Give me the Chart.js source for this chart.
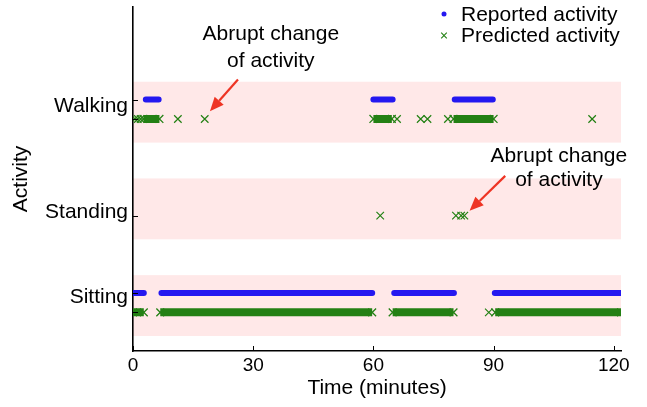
<!DOCTYPE html>
<html>
<head>
<meta charset="utf-8">
<script src="https://cdn.jsdelivr.net/npm/chart.js@4/dist/chart.umd.min.js"></script>
<style>
  html, body { margin: 0; padding: 0; background: #fff; }
  #wrap { width: 647px; height: 407px; position: relative; }
</style>
</head>
<body>
<div id="wrap"><canvas id="activityChart"></canvas></div>
<script>
// rows on the y axis (Sitting = 0, Standing = 1, Walking = 2)
const activityLabels = ['Sitting', 'Standing', 'Walking'];
const labelTicks = [0.055, 0.94, 2.03];
const timeTicks = [0, 30, 60, 90, 120];

// continuous runs of samples: [start minute, end minute, row]
const reportedRuns = [
    [3.2, 6.4, 2], [60.0, 64.8, 2], [80.3, 89.8, 2],
    [0, 2.7, 0], [7.1, 59.7, 0], [65.2, 80.1, 0], [90.3, 121.8, 0]
];
const predictedRuns = [
    [2.6, 6.6, 2], [60.0, 64.6, 2], [80.0, 90.0, 2],
    [0, 2.7, 0], [6.8, 59.7, 0], [64.8, 80.0, 0], [90.4, 121.8, 0]
];
// single predicted samples: [minute, row]
const predictedPoints = [
    [0.5, 2], [1.2, 2], [1.9, 2], [11.2, 2], [17.9, 2], [65.9, 2],
    [71.8, 2], [73.5, 2], [78.6, 2], [114.6, 2],
    [61.7, 1], [80.6, 1], [81.9, 1], [82.7, 1],
    [88.8, 0]
];

// annotations: text centre and arrow (tail -> head) in data units
const noteLines = ['Abrupt change', 'of activity'];
const notes = [
    { x: 34.4, y1: 2.772, y2: 2.494, from: [26.2, 2.309], to: [19.2, 1.980] },
    { x: 106.3, y1: 1.517, y2: 1.270, from: [92.9, 1.311], to: [84.0, 0.951] }
];

const REPORTED_SHIFT = 0.1;
const PREDICTED_SHIFT = -0.1;
const BAND_BELOW = 0.345;
const BAND_ABOVE = 0.285;

const BLUE = 'rgb(36,24,240)';
const GREEN = 'rgb(36,128,20)';
const RED = 'rgb(238,52,36)';
const FONT = '"Liberation Sans", Arial, Helvetica, sans-serif';

function runsToLine(runs, shift) {
    const out = [];
    runs.forEach(r => {
        out.push({ x: r[0], y: r[2] + shift });
        out.push({ x: r[1], y: r[2] + shift });
        out.push({ x: r[1], y: null });
    });
    return out;
}

const bandPlugin = {
    id: 'bands',
    beforeDraw(chart) {
        const { ctx, chartArea, scales } = chart;
        ctx.save();
        ctx.fillStyle = 'rgba(255,0,0,0.09)';
        activityLabels.forEach((_, row) => {
            const top = scales.y.getPixelForValue(row + BAND_ABOVE);
            const bottom = scales.y.getPixelForValue(row - BAND_BELOW);
            ctx.fillRect(chartArea.left, top, chartArea.right - chartArea.left, bottom - top);
        });
        ctx.restore();
    }
};

const extrasPlugin = {
    id: 'extras',
    afterDraw(chart) {
        const { ctx, chartArea, scales } = chart;
        const xs = scales.x, ys = scales.y;
        ctx.save();

        // inward tick marks
        ctx.strokeStyle = '#000';
        ctx.lineWidth = 1;
        timeTicks.forEach(t => {
            const px = Math.round(xs.getPixelForValue(t)) + 0.5;
            ctx.beginPath();
            ctx.moveTo(px, chartArea.bottom);
            ctx.lineTo(px, chartArea.bottom - 5);
            ctx.stroke();
        });
        const rowTicks = [];
        activityLabels.forEach((_, row) => {
            if (reportedRuns.some(r => r[2] === row)) rowTicks.push(row + REPORTED_SHIFT);
            if (predictedRuns.some(r => r[2] === row) || predictedPoints.some(p => p[1] === row))
                rowTicks.push(row + PREDICTED_SHIFT);
        });
        rowTicks.forEach(v => {
            const py = Math.round(ys.getPixelForValue(v)) + 0.5;
            ctx.beginPath();
            ctx.moveTo(chartArea.left, py);
            ctx.lineTo(chartArea.left + 5, py);
            ctx.stroke();
        });

        // annotations
        ctx.font = '21px ' + FONT;
        ctx.fillStyle = '#000';
        ctx.textAlign = 'center';
        ctx.textBaseline = 'middle';
        notes.forEach(n => {
            const tx = xs.getPixelForValue(n.x);
            ctx.fillText(noteLines[0], tx, ys.getPixelForValue(n.y1));
            ctx.fillText(noteLines[1], tx, ys.getPixelForValue(n.y2));

            const x0 = xs.getPixelForValue(n.from[0]), y0 = ys.getPixelForValue(n.from[1]);
            const x1 = xs.getPixelForValue(n.to[0]), y1 = ys.getPixelForValue(n.to[1]);
            const ang = Math.atan2(y1 - y0, x1 - x0);
            const headLen = 14, headHalf = 6;
            const bx = x1 - headLen * Math.cos(ang), by = y1 - headLen * Math.sin(ang);
            ctx.strokeStyle = RED;
            ctx.fillStyle = RED;
            ctx.lineWidth = 2.2;
            ctx.beginPath();
            ctx.moveTo(x0, y0);
            ctx.lineTo(bx, by);
            ctx.stroke();
            ctx.beginPath();
            ctx.moveTo(x1, y1);
            ctx.lineTo(bx + headHalf * Math.sin(ang), by - headHalf * Math.cos(ang));
            ctx.lineTo(bx - headHalf * Math.sin(ang), by + headHalf * Math.cos(ang));
            ctx.closePath();
            ctx.fill();
            ctx.fillStyle = '#000';
        });

        // legend (top right, inside the axes)
        const lx = 444;
        ctx.fillStyle = BLUE;
        ctx.beginPath();
        ctx.arc(lx, 14, 2.5, 0, Math.PI * 2);
        ctx.fill();
        ctx.strokeStyle = GREEN;
        ctx.lineWidth = 1.1;
        ctx.beginPath();
        ctx.moveTo(lx - 2.8, 35.5 - 2.8); ctx.lineTo(lx + 2.8, 35.5 + 2.8);
        ctx.moveTo(lx + 2.8, 35.5 - 2.8); ctx.lineTo(lx - 2.8, 35.5 + 2.8);
        ctx.stroke();
        ctx.fillStyle = '#000';
        ctx.textAlign = 'left';
        ctx.fillText('Reported activity', 461, 15);
        ctx.fillText('Predicted activity', 461, 36);

        ctx.restore();
    }
};

Chart.defaults.font.family = FONT;
Chart.defaults.color = '#000';

new Chart(document.getElementById('activityChart').getContext('2d'), {
    type: 'scatter',
    data: {
        datasets: [
            {
                label: 'Reported activity',
                data: runsToLine(reportedRuns, REPORTED_SHIFT),
                showLine: true,
                spanGaps: false,
                borderColor: BLUE,
                borderWidth: 6,
                borderCapStyle: 'round',
                pointRadius: 0
            },
            {
                label: 'Predicted activity',
                data: runsToLine(predictedRuns, PREDICTED_SHIFT),
                showLine: true,
                spanGaps: false,
                borderColor: GREEN,
                borderWidth: 8,
                borderCapStyle: 'butt',
                pointStyle: 'crossRot',
                pointRadius: 5.5,
                pointBorderWidth: 1.3,
                pointBorderColor: GREEN
            },
            {
                label: 'Predicted samples',
                data: predictedPoints.map(p => ({ x: p[0], y: p[1] + PREDICTED_SHIFT })),
                showLine: false,
                pointStyle: 'crossRot',
                pointRadius: 5.3,
                pointBorderWidth: 1.2,
                pointBorderColor: GREEN,
                backgroundColor: GREEN
            }
        ]
    },
    options: {
        responsive: true,
        maintainAspectRatio: false,
        animation: false,
        layout: { padding: { left: 0, top: 5, right: 26, bottom: 0 } },
        plugins: {
            legend: { display: false },
            tooltip: { enabled: false }
        },
        scales: {
            x: {
                type: 'linear',
                min: 0,
                max: 121.8,
                afterBuildTicks: s => { s.ticks = timeTicks.map(v => ({ value: v })); },
                ticks: { font: { size: 19 }, padding: 3, maxRotation: 0 },
                grid: { display: false, drawTicks: false },
                border: { color: '#000', width: 1.6 },
                title: {
                    display: true,
                    text: 'Time (minutes)',
                    font: { size: 21 },
                    padding: { top: 0, bottom: 6 }
                },
                afterFit: s => { s.height = 56; s.paddingLeft = 0; s.paddingRight = 0; }
            },
            y: {
                type: 'linear',
                min: -0.5,
                max: 3.06,
                afterBuildTicks: s => { s.ticks = labelTicks.map(v => ({ value: v })); },
                ticks: {
                    font: { size: 21 },
                    padding: 5,
                    callback: (v, i) => activityLabels[i]
                },
                grid: { display: false, drawTicks: false },
                border: { color: '#000', width: 1.6 },
                title: {
                    display: true,
                    text: 'Activity',
                    font: { size: 21 },
                    padding: { top: 9, bottom: 0 }
                },
                afterFit: s => { s.width = 133; s.paddingTop = 0; s.paddingBottom = 0; }
            }
        }
    },
    plugins: [bandPlugin, extrasPlugin]
});
</script>
</body>
</html>
